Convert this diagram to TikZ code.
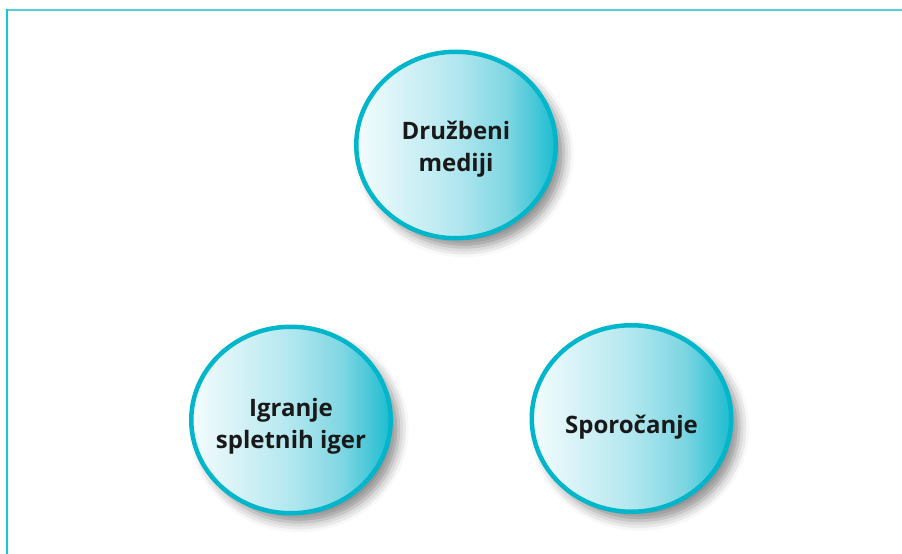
\documentclass[tikz,border=0pt]{standalone}
\usepackage{fontspec}
\setmainfont{Open Sans}
\usetikzlibrary{shapes.geometric,shadows.blur}
\definecolor{ringc}{HTML}{00B6CB}
\definecolor{topline}{HTML}{55CFDB}
\definecolor{leftline}{HTML}{12C8DB}
\definecolor{sA}{HTML}{F4FCFD}
\definecolor{sB}{HTML}{B2E7EF}
\definecolor{sC}{HTML}{7ED6E2}
\definecolor{sD}{HTML}{1CBCD0}
\pgfdeclarehorizontalshading{bubbleshade}{100bp}{color(0bp)=(sA); color(25bp)=(sA); color(50bp)=(sB); color(63bp)=(sC); color(75bp)=(sD); color(100bp)=(sD)}
\tikzset{
  bubble/.style={ellipse, draw=ringc, line width=4.5pt, shading=bubbleshade,
    minimum width=199.5pt, minimum height=186.5pt, inner sep=0pt,
    blur shadow={shadow xshift=8pt, shadow yshift=-9pt, shadow blur radius=10pt, shadow opacity=45}},
  bubbletext/.style={anchor=base, inner sep=0pt, align=center,
    font=\fontsize{24}{31.5}\selectfont\bfseries, text=black!90},
}
\begin{document}
\begin{tikzpicture}[x=1pt,y=-1pt]
\useasboundingbox (0,0) rectangle (902,554);
\draw[topline, line width=2pt] (5.7,9.8) -- (902,9.8);
\draw[leftline, line width=2pt] (6.7,8.8) -- (6.7,554);
\node[bubble] (dm) at (456,145) {};
\node[bubble] (ig) at (291,420) {};
\node[bubble] (sp) at (631.5,418.5) {};
\node[bubbletext] (dmt) at ([yshift=-26pt]dm.center) {Družbeni\\mediji};
\node[bubbletext] (igt) at ([yshift=-28pt]ig.center) {Igranje\\spletnih iger};
\node[bubbletext] (spt) at ([yshift=-14.5pt]sp.center) {Sporočanje};
\end{tikzpicture}
\end{document}
